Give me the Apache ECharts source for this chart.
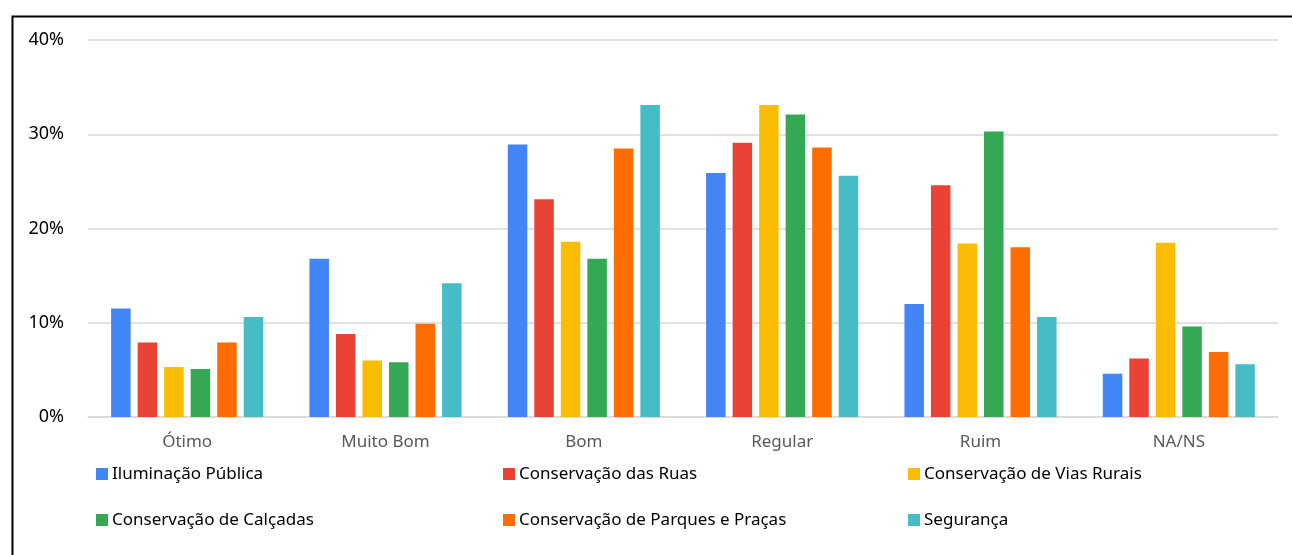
<!DOCTYPE html>
<html>
<head>
<meta charset="utf-8">
<script src="https://cdn.jsdelivr.net/npm/echarts@6/dist/echarts.min.js"></script>
<style>
html,body{margin:0;padding:0;background:#fff;}
#c{width:1292px;height:555px;}
</style>
</head>
<body>
<div id="c"></div>
<script>
const categories = ['Ótimo', 'Muito Bom', 'Bom', 'Regular', 'Ruim', 'NA/NS'];
const seriesNames = ['Iluminação Pública', 'Conservação das Ruas', 'Conservação de Vias Rurais', 'Conservação de Calçadas', 'Conservação de Parques e Praças', 'Segurança'];
const iluminacao = [11.5, 16.8, 28.9, 25.9, 12.0, 4.6];
const ruas = [7.9, 8.8, 23.1, 29.1, 24.6, 6.2];
const viasRurais = [5.3, 6.0, 18.6, 33.1, 18.4, 18.5];
const calcadas = [5.1, 5.8, 16.8, 32.1, 30.3, 9.6];
const parques = [7.9, 9.9, 28.5, 28.6, 18.0, 6.9];
const seguranca = [10.6, 14.2, 33.1, 25.6, 10.6, 5.6];
const yTicks = [0, 10, 20, 30, 40];
const colors = ['#4285F4', '#EA4335', '#FBBC04', '#34A853', '#FF6D01', '#46BDC6'];
const allData = [iluminacao, ruas, viasRurais, calcadas, parques, seguranca];

const font = 'Noto Sans';
const chart = echarts.init(document.getElementById('c'));
const legendCommon = {
  orient: 'vertical', itemWidth: 12, itemHeight: 12, itemGap: 26,
  icon: 'rect', padding: 0,
  textStyle: { fontFamily: font, fontSize: 17, lineHeight: 20, color: '#000', padding: [0, 0, 0, -1] },
  selectedMode: false
};
chart.setOption({
  animation: false,
  color: colors,
  graphic: [{
    type: 'rect', left: 10, top: 14,
    shape: { width: 1400, height: 700 },
    style: { fill: 'none', stroke: '#000', lineWidth: 2 }, z: 100
  }],
  grid: { left: 88, right: 14, top: 40, bottom: 138, containLabel: false },
  legend: [
    Object.assign({}, legendCommon, { left: 96, top: 464, data: [seriesNames[0], seriesNames[3]] }),
    Object.assign({}, legendCommon, { left: 503, top: 464, data: [seriesNames[1], seriesNames[4]] }),
    Object.assign({}, legendCommon, { left: 908, top: 464, data: [seriesNames[2], seriesNames[5]] })
  ],
  xAxis: {
    type: 'category', data: categories,
    axisLine: { lineStyle: { color: '#d9d9d9', width: 1.5 } },
    axisTick: { show: false },
    axisLabel: { fontFamily: font, fontSize: 17, color: '#595959', margin: 17 }
  },
  yAxis: {
    type: 'value', min: yTicks[0], max: yTicks[yTicks.length - 1], interval: 10,
    axisLine: { show: false }, axisTick: { show: false },
    axisLabel: { fontFamily: font, fontSize: 18, color: '#000', margin: 24, formatter: v => v + '%' },
    splitLine: { lineStyle: { color: '#d9d9d9', width: 1.5 } }
  },
  series: seriesNames.map((n, i) => ({
    name: n, type: 'bar', data: allData[i], barWidth: 19.5, barGap: '36%'
  }))
});
</script>
</body>
</html>
